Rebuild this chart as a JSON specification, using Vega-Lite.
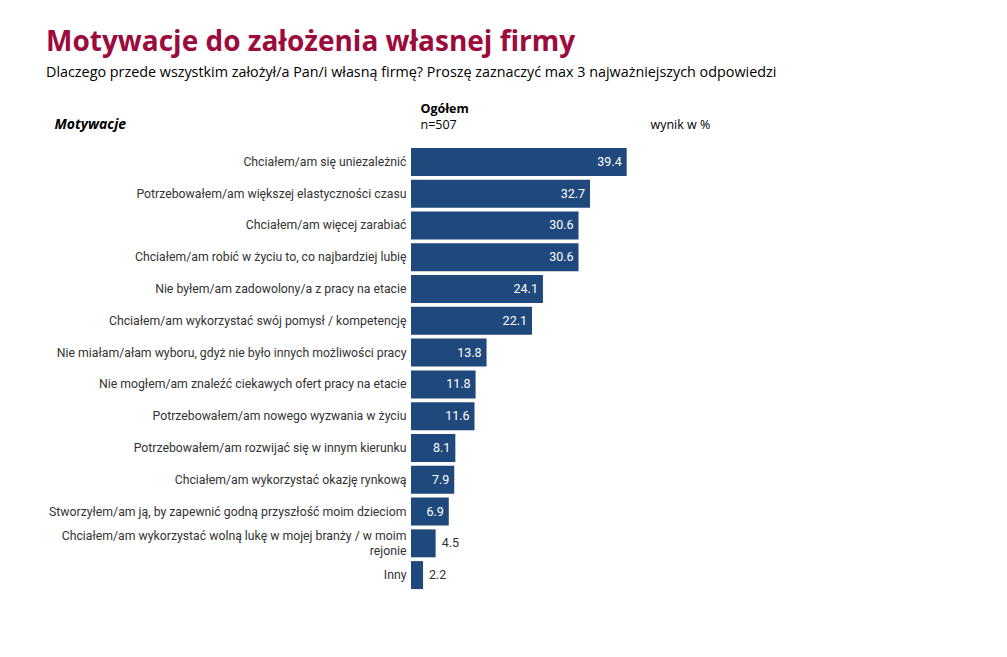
{
  "$schema": "https://vega.github.io/schema/vega-lite/v6.json",
  "width": 328.5,
  "height": 445,
  "autosize": "none",
  "padding": {"left": 411, "top": 146, "right": 267, "bottom": 66},
  "background": "white",
  "title": {
    "text": "Motywacje do założenia własnej firmy",
    "subtitle": "Dlaczego przede wszystkim założył/a Pan/i własną firmę? Proszę zaznaczyć max 3 najważniejszych odpowiedzi",
    "anchor": "start",
    "frame": "group",
    "dx": -365,
    "offset": 22,
    "font": "Open Sans",
    "fontSize": 28,
    "fontWeight": "bold",
    "color": "#9B0B3C",
    "subtitleFont": "Open Sans",
    "subtitleFontSize": 14.35,
    "subtitleColor": "#000000",
    "subtitlePadding": 9
  },
  "config": {"view": {"stroke": null}},
  "data": {
    "values": [
      {"motywacja": "Chciałem/am się uniezależnić", "wynik": 39.4},
      {"motywacja": "Potrzebowałem/am większej elastyczności czasu", "wynik": 32.7},
      {"motywacja": "Chciałem/am więcej zarabiać", "wynik": 30.6},
      {"motywacja": "Chciałem/am robić w życiu to, co najbardziej lubię", "wynik": 30.6},
      {"motywacja": "Nie byłem/am zadowolony/a z pracy na etacie", "wynik": 24.1},
      {"motywacja": "Chciałem/am wykorzystać swój pomysł / kompetencję", "wynik": 22.1},
      {"motywacja": "Nie miałam/ałam wyboru, gdyż nie było innych możliwości pracy", "wynik": 13.8},
      {"motywacja": "Nie mogłem/am znaleźć ciekawych ofert pracy na etacie", "wynik": 11.8},
      {"motywacja": "Potrzebowałem/am nowego wyzwania w życiu", "wynik": 11.6},
      {"motywacja": "Potrzebowałem/am rozwijać się w innym kierunku", "wynik": 8.1},
      {"motywacja": "Chciałem/am wykorzystać okazję rynkową", "wynik": 7.9},
      {"motywacja": "Stworzyłem/am ją, by zapewnić godną przyszłość moim dzieciom", "wynik": 6.9},
      {"motywacja": "Chciałem/am wykorzystać wolną lukę w mojej branży / w moim rejonie", "wynik": 4.5},
      {"motywacja": "Inny", "wynik": 2.2}
    ]
  },
  "encoding": {
    "y": {
      "field": "motywacja",
      "type": "nominal",
      "sort": null,
      "scale": {"paddingInner": 0.12, "paddingOuter": 0.06},
      "axis": {
        "title": "Motywacje",
        "titleAngle": 0,
        "titleAlign": "left",
        "titleBaseline": "alphabetic",
        "titleX": -357,
        "titleY": -18,
        "titleFont": "Open Sans",
        "titleFontSize": 14,
        "titleFontWeight": "bold",
        "titleFontStyle": "italic",
        "titleColor": "#000000",
        "domain": false,
        "ticks": false,
        "labelPadding": 5,
        "labelFont": "Roboto",
        "labelFontSize": 12.25,
        "labelColor": "#333333",
        "labelLimit": 400,
        "labelLineHeight": 15,
        "labelOffset": {
          "condition": {"test": "datum.value == 'Chciałem/am wykorzystać wolną lukę w mojej branży / w moim rejonie'", "value": -7},
          "value": 0
        },
        "labelExpr": "datum.label == 'Chciałem/am wykorzystać wolną lukę w mojej branży / w moim rejonie' ? ['Chciałem/am wykorzystać wolną lukę w mojej branży / w moim', 'rejonie'] : datum.label"
      }
    },
    "x": {
      "field": "wynik",
      "type": "quantitative",
      "scale": {"domain": [0, 60], "nice": false},
      "axis": {
        "orient": "top",
        "grid": false,
        "domain": false,
        "ticks": false,
        "values": [0, 42],
        "labelExpr": "datum.value == 0 ? 'n=507' : 'wynik w %'",
        "labelAlign": "left",
        "labelOffset": 9,
        "labelBaseline": "alphabetic",
        "labelPadding": 18,
        "labelFlush": false,
        "labelOverlap": false,
        "labelFont": "Open Sans",
        "labelFontSize": 12.5,
        "labelColor": "#000000",
        "title": "Ogółem",
        "titleX": 9,
        "titleY": -34,
        "titleAlign": "left",
        "titleBaseline": "alphabetic",
        "titleFont": "Open Sans",
        "titleFontSize": 12.5,
        "titleFontWeight": "bold",
        "titleColor": "#000000"
      }
    }
  },
  "layer": [
    {"mark": {"type": "bar", "color": "#1F497D"}},
    {
      "transform": [{"filter": "datum.wynik >= 5"}],
      "mark": {"type": "text", "align": "right", "dx": -5, "color": "#FFFFFF", "font": "Roboto", "fontSize": 12.5},
      "encoding": {"text": {"field": "wynik", "type": "quantitative", "format": ".1f"}}
    },
    {
      "transform": [{"filter": "datum.wynik < 5"}],
      "mark": {"type": "text", "align": "left", "dx": 6, "color": "#333333", "font": "Roboto", "fontSize": 12.5},
      "encoding": {"text": {"field": "wynik", "type": "quantitative", "format": ".1f"}}
    }
  ]
}
